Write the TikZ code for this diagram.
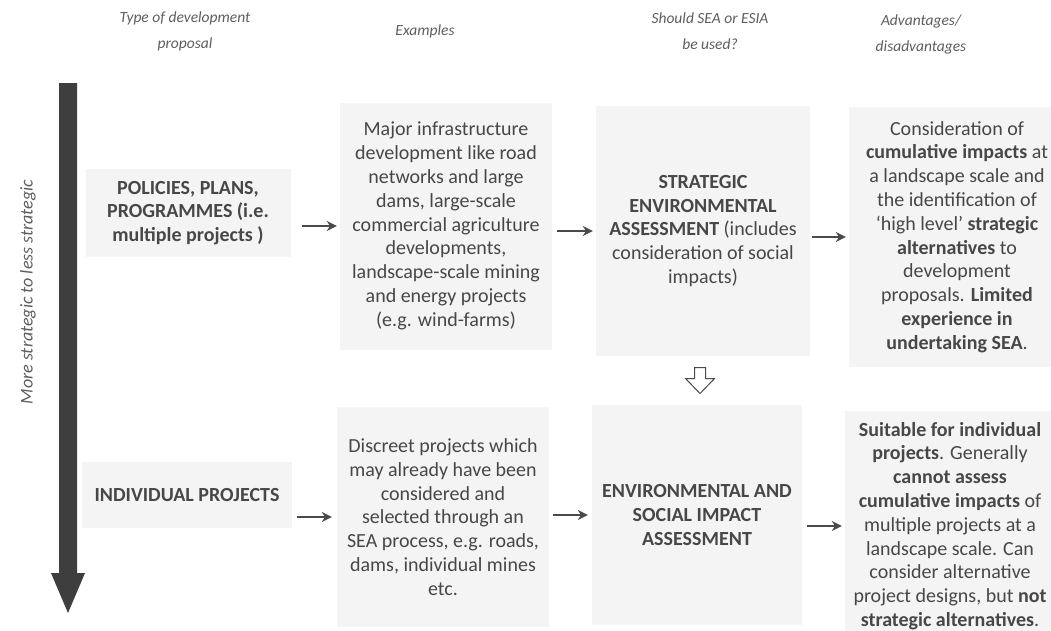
\documentclass[tikz,border=0pt]{standalone}
\usepackage{fontspec}
\setmainfont{Carlito}
\usetikzlibrary{arrows.meta}
\definecolor{boxgray}{HTML}{F4F4F4}
\definecolor{bodytext}{HTML}{474747}
\definecolor{headgray}{HTML}{5E5E5E}
\definecolor{arrgray}{HTML}{4A4A4A}
\definecolor{bigarrow}{HTML}{3E3E3E}
\begin{document}
\begin{tikzpicture}[x=1pt,y=-1pt,
  panel/.style={fill=boxgray, inner sep=0pt, align=center, text=bodytext,
    font=\fontsize{20}{23.8}\selectfont},
  colhead/.style={align=center, text=headgray, font=\itshape\fontsize{15.5}{26}\selectfont},
  flow/.style={draw=arrgray, line width=2.2pt, -{Stealth[length=10pt,width=10pt]}},
  hollow/.style={draw=arrgray, line width=1pt, fill=white, line join=miter},
]
\useasboundingbox (0,0) rectangle (1051,630);

% column headings
\node[colhead] (h1) at (185,31) {Type of development\\proposal};
\node[colhead] (h2) at (425,31) {Examples};
\node[colhead] (h3) at (710,31) {Should SEA or ESIA\\be used?};
\node[colhead] (h4) at (921,34) {Advantages/\\disadvantages};

% strategic scale on the left
\fill[bigarrow] (59,83) -- (77,83) -- (77,573) -- (85,573) -- (68,613)
  -- (51,573) -- (59,573) -- cycle;
\node[rotate=90, text=headgray, font=\itshape\fontsize{18}{20}\selectfont]
  (scale) at (28,292) {More strategic to less strategic};

% upper row: policies, plans, programmes
\node[panel, minimum width=205, minimum height=88] (pol) at (188,213)
  {\textbf{POLICIES, PLANS,}\\\textbf{PROGRAMMES (i.e.}\\\textbf{multiple projects )}};
\node[panel, minimum width=212, minimum height=247] (ex1) at (446,226)
  {Major infrastructure\\development like road\\networks and large\\dams, large-scale\\commercial agriculture\\developments,\\landscape-scale mining\\and energy projects\\(e.g. wind-farms)};
\node[panel, minimum width=214, minimum height=250] (sea) at (703,231)
  {\textbf{STRATEGIC}\\\textbf{ENVIRONMENTAL}\\\textbf{ASSESSMENT} (includes\\consideration of social\\impacts)};
\node[panel, minimum width=216, minimum height=260] (adv1) at (957,237)
  {Consideration of\\\textbf{cumulative impacts} at\\a landscape scale and\\the identification of\\`high level' \textbf{strategic}\\\textbf{alternatives} to\\development\\proposals. \textbf{Limited}\\\textbf{experience in}\\\textbf{undertaking SEA}.};

% lower row: individual projects
\node[panel, minimum width=210, minimum height=66] (ind) at (187,495)
  {\textbf{INDIVIDUAL PROJECTS}};
\node[panel, minimum width=212, minimum height=220] (ex2) at (443,517)
  {Discreet projects which\\may already have been\\considered and\\selected through an\\SEA process, e.g. roads,\\dams, individual mines\\etc.};
\node[panel, minimum width=210, minimum height=220] (esia) at (697,515)
  {\textbf{ENVIRONMENTAL AND}\\\textbf{SOCIAL IMPACT}\\\textbf{ASSESSMENT}};
\node[panel, minimum width=210, minimum height=230] (adv2) at (950,526)
  {\textbf{Suitable for individual}\\\textbf{projects}. Generally\\\textbf{cannot assess}\\\textbf{cumulative impacts} of\\multiple projects at a\\landscape scale. Can\\consider alternative\\project designs, but \textbf{not}\\\textbf{strategic alternatives}.};

% connectors, upper row
\draw[flow, shorten <=11pt, shorten >=3pt] (pol.east |- ex1.west) -- (ex1.west);
\draw[flow, shorten <=5pt, shorten >=3pt] (ex1.east |- sea.west) -- (sea.west);
\draw[flow, shorten <=2pt, shorten >=3pt] (sea.east |- adv1.west) -- (adv1.west);

% connectors, lower row
\draw[flow, shorten <=5pt, shorten >=5pt] (ind.east |- ex2.west) -- (ex2.west);
\draw[flow, shorten <=4pt, shorten >=4pt] (ex2.east |- esia.west) -- (esia.west);
\draw[flow, shorten <=5pt, shorten >=3pt] (esia.east |- adv2.west) -- (adv2.west);

% hollow arrow from SEA down to ESIA
\path (sea.south) -- (esia.north) coordinate[pos=0.5] (hm);
\draw[hollow] ([shift={(-5.5,-13)}]hm) -- ([shift={(5.5,-13)}]hm)
  -- ([shift={(5.5,-2)}]hm) -- ([shift={(14.5,-2)}]hm)
  -- ([shift={(0,13)}]hm) -- ([shift={(-14.5,-2)}]hm)
  -- ([shift={(-5.5,-2)}]hm) -- cycle;
\end{tikzpicture}
\end{document}
